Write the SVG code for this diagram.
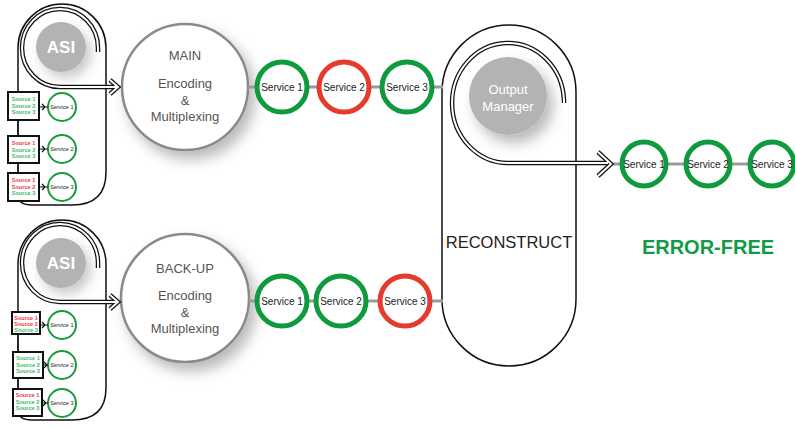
<svg xmlns="http://www.w3.org/2000/svg" width="795" height="427" viewBox="0 0 795 427">
<defs>
<filter id="sh" x="-30%" y="-30%" width="170%" height="170%">
<feDropShadow dx="6" dy="8" stdDeviation="7" flood-color="#000" flood-opacity="0.28"/>
</filter>
<filter id="sh2" x="-30%" y="-30%" width="170%" height="170%">
<feDropShadow dx="5" dy="6" stdDeviation="6" flood-color="#000" flood-opacity="0.22"/>
</filter>
</defs>
<style>
text{font-family:"Liberation Sans",Arial,sans-serif}
.pill{fill:none;stroke:#111;stroke-width:1.5}
.dblo{fill:none;stroke:#111;stroke-width:4.5;stroke-linecap:butt}
.dbli{fill:none;stroke:#fff;stroke-width:2}
.gline{stroke:#9a9a9a;stroke-width:3;fill:none}
.enc{fill:#fff;stroke:#8a8a8a;stroke-width:2.5}
.enct{font-size:13px;fill:#555;text-anchor:middle}
.gray{fill:#b3b3b3}
.wt{fill:#fff;text-anchor:middle}
.sg{fill:#fff;stroke:#0f9a3d;stroke-width:5}
.sr{fill:#fff;stroke:#e43b2c;stroke-width:5}
.st{font-size:10px;fill:#222;text-anchor:middle}
.box{fill:#fff;stroke:#111;stroke-width:2}
.src{font-size:5.6px;font-weight:bold;text-anchor:middle}
.g{fill:#3dba6a}
.r{fill:#ec3a3f}
.ss{fill:#fff;stroke:#1a9a3e;stroke-width:2}
.sst{font-size:5.6px;fill:#222;text-anchor:middle}
.sm{fill:none;stroke:#111;stroke-width:1.2}
</style>

<!-- TOP ASI panel -->
<g id="asi-main">
<path class="pill" d="M18,48 A44,44 0 0 1 106,48 L106,172 Q106,205 72,205 L32,205 Q18,205 18,195 Z"/>
<circle class="gray" cx="61" cy="47" r="25" filter="url(#sh2)"/>
<text class="wt" x="61" y="53" font-size="17" font-weight="bold">ASI</text>
</g>
<g id="asi-main-sources">
<rect class="box" x="8" y="92" width="31" height="28"/>
<text class="src g" x="23.5" y="101">Source 1</text>
<text class="src g" x="23.5" y="107.5">Source 2</text>
<text class="src g" x="23.5" y="114">Source 3</text>
<rect class="box" x="8" y="136" width="31" height="27"/>
<text class="src r" x="23.5" y="145">Source 1</text>
<text class="src g" x="23.5" y="151.5">Source 2</text>
<text class="src g" x="23.5" y="158">Source 3</text>
<rect class="box" x="8" y="173" width="31" height="28"/>
<text class="src r" x="23.5" y="182">Source 1</text>
<text class="src r" x="23.5" y="188.5">Source 2</text>
<text class="src g" x="23.5" y="195">Source 3</text>
<circle class="ss" cx="62" cy="107" r="14"/>
<text class="sst" x="62" y="109">Service 1</text>
<circle class="ss" cx="62" cy="149" r="14"/>
<text class="sst" x="62" y="151">Service 2</text>
<circle class="ss" cx="62" cy="187" r="14"/>
<text class="sst" x="62" y="189">Service 3</text>
</g>

<!-- BOTTOM ASI panel -->
<g id="asi-backup">
<path class="pill" d="M18,264 A44,44 0 0 1 106,264 L106,388 Q106,420 72,420 L32,420 Q18,420 18,410 Z"/>
<circle class="gray" cx="61" cy="263" r="25" filter="url(#sh2)"/>
<text class="wt" x="61" y="269" font-size="17" font-weight="bold">ASI</text>
</g>
<g id="asi-backup-sources">
<rect class="box" x="12" y="312" width="28" height="22"/>
<text class="src r" x="26" y="319.5">Source 1</text>
<text class="src r" x="26" y="325.5">Source 2</text>
<text class="src g" x="26" y="331.5">Source 3</text>
<rect class="box" x="13" y="352" width="30" height="26"/>
<text class="src g" x="28" y="360">Source 1</text>
<text class="src g" x="28" y="366.5">Source 2</text>
<text class="src g" x="28" y="373">Source 3</text>
<rect class="box" x="13" y="389" width="29" height="27"/>
<text class="src r" x="27.5" y="397">Source 1</text>
<text class="src g" x="27.5" y="403.5">Source 2</text>
<text class="src g" x="27.5" y="410">Source 3</text>
<circle class="ss" cx="62" cy="325" r="14"/>
<text class="sst" x="62" y="327">Service 1</text>
<circle class="ss" cx="62" cy="365" r="14"/>
<text class="sst" x="62" y="367">Service 2</text>
<circle class="ss" cx="62" cy="403" r="14"/>
<text class="sst" x="62" y="405">Service 3</text>
</g>

<!-- Reconstruct -->
<g id="reconstruct">
<rect class="pill" x="442" y="25" width="134" height="341" rx="67" ry="67" fill="#fff"/>
<circle class="gray" cx="508" cy="96" r="39" filter="url(#sh)"/>
<text class="wt" x="508" y="94" font-size="13">Output</text>
<text class="wt" x="508" y="111" font-size="13">Manager</text>
<text x="509" y="248" font-size="16.5" fill="#222" text-anchor="middle">RECONSTRUCT</text>
</g>

<!-- Encoders -->
<g id="enc-main">
<circle class="enc" cx="185" cy="87" r="63" filter="url(#sh)"/>
<text class="enct" x="185" y="60">MAIN</text>
<text class="enct" x="185" y="88">Encoding</text>
<text class="enct" x="185" y="105">&amp;</text>
<text class="enct" x="185" y="121">Multiplexing</text>
</g>
<g id="enc-backup">
<circle class="enc" cx="185" cy="298" r="64" filter="url(#sh)"/>
<text class="enct" x="185" y="273">BACK-UP</text>
<text class="enct" x="185" y="300">Encoding</text>
<text class="enct" x="185" y="317">&amp;</text>
<text class="enct" x="185" y="333">Multiplexing</text>
</g>

<!-- connectors -->
<g id="connectors">
<line class="gline" x1="248" y1="87" x2="443" y2="87"/>
<line class="gline" x1="249" y1="301" x2="443" y2="301"/>
<line class="gline" x1="613" y1="164" x2="795" y2="164"/>
<line class="sm" x1="18" y1="120" x2="18" y2="136"/>
<line class="sm" x1="18" y1="163" x2="18" y2="173"/>
<line class="sm" x1="18" y1="334" x2="18" y2="352"/>
<line class="sm" x1="18" y1="378" x2="18" y2="389"/>
<path class="sm" d="M39,107 H48 M42,104 L45,107 L42,110"/>
<path class="sm" d="M39,149 H48 M42,146 L45,149 L42,152"/>
<path class="sm" d="M39,187 H48 M42,184 L45,187 L42,190"/>
<path class="sm" d="M40,325 H48 M42,322 L45,325 L42,328"/>
<path class="sm" d="M43,365 H48 M44,362 L47,365 L44,368"/>
<path class="sm" d="M42,403 H48 M43,400 L46,403 L43,406"/>
<!-- spirals -->
<path class="dblo" d="M98,52 V48 A38,39 0 1 0 60,87 H117"/>
<path class="dblo" d="M110,80 L118,87 L110,94"/>
<path class="dbli" d="M98,52 V48 A38,39 0 1 0 60,87 H117"/>
<path class="dbli" d="M110,80 L118,87 L110,94"/>
<path class="dblo" d="M98,268 V264 A38,39 0 1 0 60,302 H117"/>
<path class="dblo" d="M110,295 L118,302 L110,309"/>
<path class="dbli" d="M98,268 V264 A38,39 0 1 0 60,302 H117"/>
<path class="dbli" d="M110,295 L118,302 L110,309"/>
<path class="dblo" d="M564,103 V100 A56,60 0 1 0 508,163 H608"/>
<path class="dblo" d="M598,152 L611,164 L598,176"/>
<path class="dbli" d="M564,103 V100 A56,60 0 1 0 508,163 H608"/>
<path class="dbli" d="M598,152 L611,164 L598,176"/>
</g>

<!-- service circles -->
<g id="svc-main">
<circle class="sg" cx="282" cy="87" r="25"/><text class="st" x="282" y="91">Service 1</text>
<circle class="sr" cx="344" cy="87" r="25"/><text class="st" x="344" y="91">Service 2</text>
<circle class="sg" cx="407" cy="87" r="25"/><text class="st" x="407" y="91">Service 3</text>
</g>
<g id="svc-backup">
<circle class="sg" cx="282" cy="301" r="25"/><text class="st" x="282" y="305">Service 1</text>
<circle class="sg" cx="341" cy="301" r="25"/><text class="st" x="341" y="305">Service 2</text>
<circle class="sr" cx="405" cy="301" r="25"/><text class="st" x="405" y="305">Service 3</text>
</g>
<g id="svc-out">
<circle class="sg" cx="644" cy="164" r="22"/><text class="st" x="644" y="168">Service 1</text>
<circle class="sg" cx="708" cy="164" r="22"/><text class="st" x="708" y="168">Service 2</text>
<circle class="sg" cx="772" cy="164" r="22"/><text class="st" x="772" y="168">Service 3</text>
</g>
<text x="708" y="254" font-size="20" font-weight="bold" fill="#129a46" text-anchor="middle">ERROR-FREE</text>
</svg>
